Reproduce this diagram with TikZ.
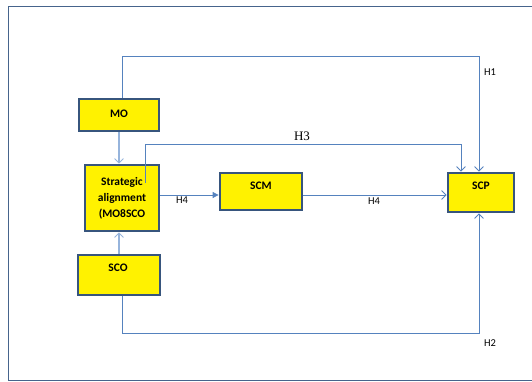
\documentclass[tikz,border=0pt]{standalone}
\usepackage{fontspec}
\setmainfont{Carlito}
\newfontfamily\serifH{Liberation Serif}
\usetikzlibrary{arrows.meta}
\definecolor{frameC}{RGB}{70,100,140}
\definecolor{boxC}{RGB}{55,85,125}
\definecolor{lineC}{RGB}{85,130,190}
\definecolor{lightC}{RGB}{150,180,220}
\tikzset{
  box/.style={draw=boxC, line width=2.8pt, fill=yellow, rectangle, inner sep=0pt},
  txt/.style={font=\bfseries\fontsize{11.5}{16}\selectfont, align=center, inner sep=0pt},
  hlab/.style={font=\fontsize{10.5}{12}\selectfont, inner sep=0pt},
  conn/.style={draw=lineC, line width=0.8pt},
  lconn/.style={draw=lightC, line width=1.3pt},
  open/.style={-{Straight Barb[length=4.5pt,width=9pt,line width=0.8pt]}},
}
\begin{document}
\begin{tikzpicture}[x=1pt,y=-1pt]
\useasboundingbox (0,0) rectangle (532,382);
\draw[frameC, line width=1.4pt] (8.5,6.5) rectangle (560,380.5);
% boxes
\node[box, minimum width=80pt, minimum height=32pt] (mo) at (119,115) {};
\node[box, minimum width=74pt, minimum height=66pt] (sa) at (122,198) {};
\node[box, minimum width=82pt, minimum height=40pt] (sco) at (119,275) {};
\node[box, minimum width=82pt, minimum height=37pt] (scm) at (261,191.5) {};
\node[box, minimum width=66pt, minimum height=39pt] (scp) at (481,192.5) {};
% texts
\node[txt] (mot) at (119,114) {MO};
\node[txt] (sat) at (122,198) {Strategic\\alignment\\(MO8SCO};
\node[txt] (scot) at (118,268) {SCO};
\node[txt] (scmt) at (261,186) {SCM};
\node[txt] (scpt) at (481,186) {SCP};
% coordinates
\coordinate (h1a) at (122,56);
\coordinate (h1b) at (479,56);
\coordinate (h3s) at (145,183);
\coordinate (h3a) at (145,144);
\coordinate (h3b) at (461,144);
\coordinate (h2a) at (122,333);
\coordinate (h2b) at (479,333);
% connectors
\draw[conn, open] (mo.north -| h1a) -- (h1a) -- (h1b) -- (h1b |- scp.north);
\draw[conn, open] (h3s) -- (h3a) -- (h3b) -- (h3b |- scp.north);
\draw[conn, open] (sco.south -| h2a) -- (h2a) -- (h2b) -- (h2b |- scp.south);
\draw[conn, -{Triangle[length=6pt,width=6pt]}] (sa.east |- 0,195) -- (scm.west |- 0,195);
\draw[conn, open] (scm.east |- 0,195) -- (scp.west |- 0,195);
\draw[lconn, open] (mo.south -| 119,0) -- (sa.north -| 119,0);
\draw[lconn, open] (sco.north -| 119,0) -- (sa.south -| 119,0);
% labels
\node[hlab] (h1l) at (490,72) {H1};
\node[hlab] (h2l) at (490,343) {H2};
\node[hlab] (h4l) at (182,200) {H4};
\node[hlab] (h4m) at (374,201) {H4};
\node[font=\serifH\fontsize{13}{14}\selectfont, inner sep=0pt] (h3l) at (302,136) {H3};
\end{tikzpicture}
\end{document}
